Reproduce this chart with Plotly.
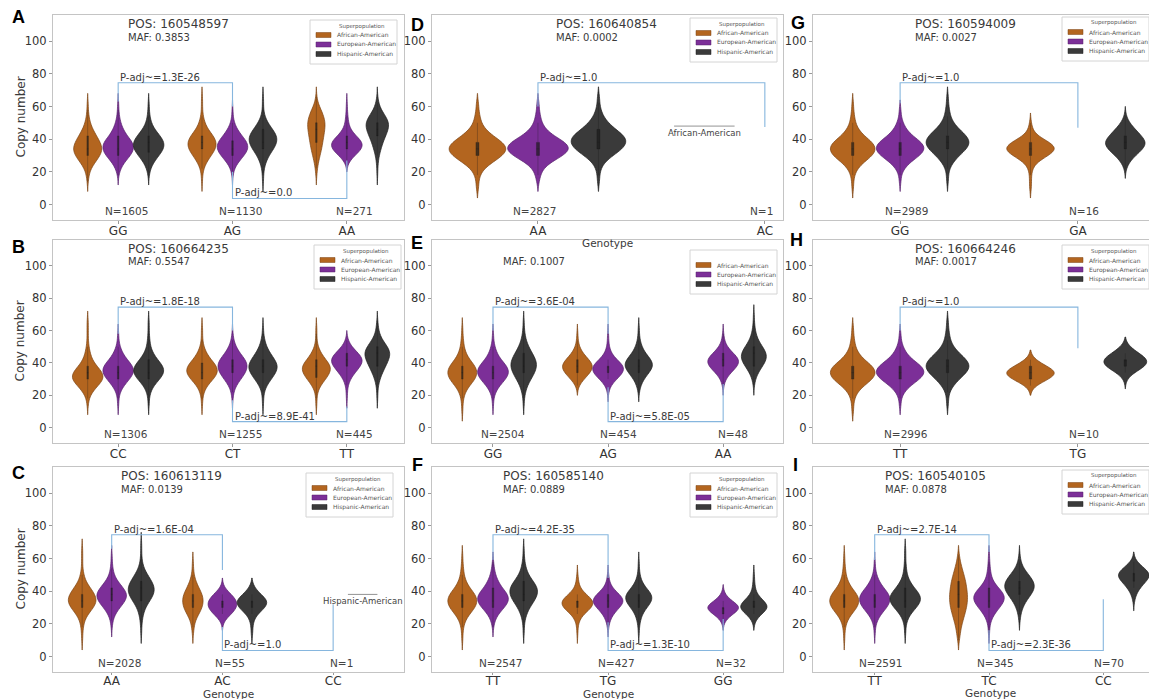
import numpy as np
import plotly.graph_objects as go

# ------------------------------------------------------------------ data
BIN_CENTERS = [6, 10, 14, 18, 22, 26, 30, 34, 38, 42, 46, 50, 54, 58, 62, 66, 70, 74]
POPULATIONS = ["African-American", "European-American", "Hispanic-American"]
LEGEND_TITLE = "Superpopulation"

# Panel A
A_GENOTYPES = ["GG", "AG", "AA"]
A_N = [1605, 1130, 271]
A_POS, A_MAF = "160548597", "0.3853"
A_AFRICAN = [[0,0,1,2,5,12,20,24,20,14,8,4,2,1,1,0,0,0],
             [0,0,1,1,3,8,16,24,26,20,10,5,2,1,1,1,0,0],
             [0,0,0,1,2,4,7,10,12,14,16,17,14,9,3,1,0,0]]
A_EUROPEAN = [[0,0,0,1,4,10,20,26,24,14,8,4,2,1,1,0,0,0],
              [0,0,0,1,3,10,20,28,26,16,8,3,1,1,0,0,0,0],
              [0,0,0,0,0,3,14,28,30,16,6,3,2,1,1,0,0,0]]
A_HISPANIC = [[0,0,0,1,3,8,16,24,25,18,9,4,2,1,1,0,0,0],
              [0,0,1,1,2,5,10,18,24,24,16,8,3,1,1,1,0,0],
              [0,0,0,1,1,2,4,8,12,18,24,26,18,8,3,1,0,0]]
A_TOP_BRACKET, A_TOP_P = [63, 74.5, 60], "1.3E-26"
A_BOTTOM_BRACKET, A_BOTTOM_P = [20, 3.7, 27], "0.0"

# Panel B
B_GENOTYPES = ["CC", "CT", "TT"]
B_N = [1306, 1255, 445]
B_POS, B_MAF = "160664235", "0.5547"
B_AFRICAN = [[0,0,1,2,7,16,26,24,14,7,4,2,1,1,1,1,0,0],
             [0,0,1,1,3,8,18,26,24,14,7,3,1,1,1,0,0,0],
             [0,0,1,1,2,7,16,24,26,16,8,3,1,1,1,0,0,0]]
B_EUROPEAN = [[0,0,1,1,3,9,18,26,24,14,7,3,1,1,0,0,0,0],
              [0,0,0,1,2,6,14,22,26,22,12,6,2,1,0,0,0,0],
              [0,0,0,1,1,2,6,14,24,30,20,8,2,0,0,0,0,0]]
B_HISPANIC = [[0,0,1,1,3,8,18,26,24,14,7,3,2,1,1,1,0,0],
              [0,0,1,1,2,6,14,22,26,20,12,6,3,1,1,0,0,0],
              [0,0,0,1,1,2,5,10,16,22,26,20,10,4,2,1,0,0]]
B_TOP_BRACKET, B_TOP_P = [58, 74.5, 60], "1.8E-18"
B_BOTTOM_BRACKET, B_BOTTOM_P = [17, 3.7, 13], "8.9E-41"

# Panel C
C_GENOTYPES = ["AA", "AC", "CC"]
C_N = [2028, 55, 1]
C_POS, C_MAF = "160613119", "0.0139"
C_AFRICAN = [[0,1,1,2,4,10,20,26,22,14,6,3,1,1,1,1,0,0],
             [0,0,1,2,4,10,16,18,16,10,5,2,1,1,0,0,0,0],
             None]
C_EUROPEAN = [[0,0,0,1,2,6,14,24,28,20,10,4,2,1,1,0,0,0],
              [0,0,0,0,1,6,10,10,6,1,0,0,0,0,0,0,0,0],
              None]
C_HISPANIC = [[0,0,1,1,2,4,8,16,24,26,20,12,5,2,1,1,1,0],
              [0,0,1,1,2,6,16,20,10,3,0,0,0,0,0,0,0,0],
              None]
C_SINGLE = ("CC", "Hispanic-American", 38)
C_TOP_BRACKET, C_TOP_P = [66, 74.5, 53], "1.6E-04"
C_BOTTOM_BRACKET, C_BOTTOM_P = [18, 3.7, 32], "1.0"

# Panel D
D_GENOTYPES = ["AA", "AC"]
D_N = [2827, 1]
D_POS, D_MAF = "160640854", "0.0002"
D_AFRICAN = [[0,1,1,2,5,12,20,24,20,12,6,3,2,1,1,0,0,0], None]
D_EUROPEAN = [[0,0,1,2,4,10,20,26,22,12,6,3,2,1,1,0,0,0], None]
D_HISPANIC = [[0,0,1,1,2,5,12,20,24,22,14,8,4,2,1,1,0,0], None]
D_SINGLE = ("AC", "African-American", 48)
D_TOP_BRACKET, D_TOP_P = [60, 74.5, 47.5], "1.0"
D_BOTTOM_BRACKET, D_BOTTOM_P = None, None

# Panel E
E_GENOTYPES = ["GG", "AG", "AA"]
E_N = [2504, 454, 48]
E_POS, E_MAF = None, "0.1007"
E_AFRICAN = [[0,1,1,2,5,12,22,26,22,12,6,3,2,1,1,0,0,0],
             [0,0,0,0,0,2,10,20,26,18,8,3,1,1,0,0,0,0],
             None]
E_EUROPEAN = [[0,0,1,1,4,10,20,26,22,12,6,3,1,1,0,0,0,0],
              [0,0,0,0,1,4,14,26,28,14,5,2,1,1,0,0,0,0],
              [0,0,0,0,0,1,4,12,24,28,16,6,2,1,0,0,0,0]]
E_HISPANIC = [[0,0,1,1,3,6,12,18,22,20,14,8,4,2,1,1,0,0],
              [0,0,0,0,1,3,8,16,24,20,10,5,2,1,1,0,0,0],
              [0,0,0,0,0,1,3,8,16,24,24,16,8,4,2,1,1,0]]
E_TOP_BRACKET, E_TOP_P = [60, 74.5, 58], "3.6E-04"
E_BOTTOM_BRACKET, E_BOTTOM_P = [25, 3.7, 27], "5.8E-05"

# Panel F
F_GENOTYPES = ["TT", "TG", "GG"]
F_N = [2547, 427, 32]
F_POS, F_MAF = "160585140", "0.0889"
F_AFRICAN = [[0,1,1,2,5,12,22,26,22,12,6,3,2,1,1,0,0,0],
             [0,0,1,1,3,10,26,30,14,4,2,1,0,0,0,0,0,0],
             None]
F_EUROPEAN = [[0,0,0,1,3,8,18,26,24,14,8,4,2,1,0,0,0,0],
              [0,0,0,1,3,8,18,28,18,6,2,1,0,0,0,0,0,0],
              [0,0,0,0,2,12,28,10,2,0,0,0,0,0,0,0,0,0]]
F_HISPANIC = [[0,0,1,1,2,5,10,18,24,24,16,8,4,2,1,1,0,0],
              [0,0,1,1,3,6,14,24,24,12,5,2,1,1,0,0,0,0],
              [0,0,0,0,2,10,24,14,4,2,1,1,0,0,0,0,0,0]]
F_TOP_BRACKET, F_TOP_P = [59, 74.5, 48], "4.2E-35"
F_BOTTOM_BRACKET, F_BOTTOM_P = [21, 3.7, 23], "1.3E-10"

# Panel G
G_GENOTYPES = ["GG", "GA"]
G_N = [2989, 16]
G_POS, G_MAF = "160594009", "0.0027"
G_AFRICAN = [[0,1,1,2,5,12,22,26,22,12,6,3,2,1,1,0,0,0],
             [0,1,1,1,2,6,18,28,20,6,2,1,0,0,0,0,0,0]]
G_EUROPEAN = [[0,0,1,1,4,10,20,26,22,12,6,3,1,1,0,0,0,0], None]
G_HISPANIC = [[0,0,1,1,2,6,12,20,24,20,12,6,3,2,1,1,0,0],
              [0,0,0,0,1,4,10,18,22,16,10,4,1,0,0,0,0,0]]
G_TOP_BRACKET, G_TOP_P = [62, 74.5, 47], "1.0"
G_BOTTOM_BRACKET, G_BOTTOM_P = None, None

# Panel H
H_GENOTYPES = ["TT", "TG"]
H_N = [2996, 10]
H_POS, H_MAF = "160664246", "0.0017"
H_AFRICAN = [[0,1,1,2,5,12,22,26,22,12,6,3,2,1,1,0,0,0],
             [0,0,0,0,0,3,14,22,12,3,0,0,0,0,0,0,0,0]]
H_EUROPEAN = [[0,0,1,1,4,10,20,26,22,12,6,3,1,1,0,0,0,0], None]
H_HISPANIC = [[0,0,1,1,2,6,12,20,24,20,12,6,3,2,1,1,0,0],
              [0,0,0,0,0,0,1,6,16,18,10,3,0,0,0,0,0,0]]
H_TOP_BRACKET, H_TOP_P = [60, 74.5, 49], "1.0"
H_BOTTOM_BRACKET, H_BOTTOM_P = None, None

# Panel I
I_GENOTYPES = ["TT", "TC", "CC"]
I_N = [2591, 345, 70]
I_POS, I_MAF = "160540105", "0.0878"
I_AFRICAN = [[0,1,1,2,5,12,22,26,22,12,6,3,2,1,1,0,0,0],
             [0,1,2,3,5,7,9,10,10,9,8,6,4,2,1,0,0,0],
             None]
I_EUROPEAN = [[0,0,1,1,4,10,20,26,24,14,7,3,1,1,0,0,0,0],
              [0,0,1,1,3,8,16,24,24,14,6,3,2,1,1,0,0,0],
              None]
I_HISPANIC = [[0,0,1,1,3,8,18,26,24,14,7,3,2,1,1,1,0,0],
              [0,0,0,0,1,2,5,10,18,24,22,14,6,2,1,0,0,0],
              [0,0,0,0,0,0,0,1,3,8,16,24,14,3,0,0,0,0]]
I_TOP_BRACKET, I_TOP_P = [59, 74.5, 64], "2.7E-14"
I_BOTTOM_BRACKET, I_BOTTOM_P = [16, 3.7, 35], "2.3E-36"

# ------------------------------------------------------------------ panel registry
PANELS = [
    dict(letter="A", genotypes=A_GENOTYPES, counts=[A_AFRICAN, A_EUROPEAN, A_HISPANIC], n=A_N, pos=A_POS, maf=A_MAF,
         top=A_TOP_BRACKET, top_p=A_TOP_P, bottom=A_BOTTOM_BRACKET, bottom_p=A_BOTTOM_P, single=None),
    dict(letter="B", genotypes=B_GENOTYPES, counts=[B_AFRICAN, B_EUROPEAN, B_HISPANIC], n=B_N, pos=B_POS, maf=B_MAF,
         top=B_TOP_BRACKET, top_p=B_TOP_P, bottom=B_BOTTOM_BRACKET, bottom_p=B_BOTTOM_P, single=None),
    dict(letter="C", genotypes=C_GENOTYPES, counts=[C_AFRICAN, C_EUROPEAN, C_HISPANIC], n=C_N, pos=C_POS, maf=C_MAF,
         top=C_TOP_BRACKET, top_p=C_TOP_P, bottom=C_BOTTOM_BRACKET, bottom_p=C_BOTTOM_P, single=C_SINGLE),
    dict(letter="D", genotypes=D_GENOTYPES, counts=[D_AFRICAN, D_EUROPEAN, D_HISPANIC], n=D_N, pos=D_POS, maf=D_MAF,
         top=D_TOP_BRACKET, top_p=D_TOP_P, bottom=D_BOTTOM_BRACKET, bottom_p=D_BOTTOM_P, single=D_SINGLE),
    dict(letter="E", genotypes=E_GENOTYPES, counts=[E_AFRICAN, E_EUROPEAN, E_HISPANIC], n=E_N, pos=E_POS, maf=E_MAF,
         top=E_TOP_BRACKET, top_p=E_TOP_P, bottom=E_BOTTOM_BRACKET, bottom_p=E_BOTTOM_P, single=None),
    dict(letter="F", genotypes=F_GENOTYPES, counts=[F_AFRICAN, F_EUROPEAN, F_HISPANIC], n=F_N, pos=F_POS, maf=F_MAF,
         top=F_TOP_BRACKET, top_p=F_TOP_P, bottom=F_BOTTOM_BRACKET, bottom_p=F_BOTTOM_P, single=None),
    dict(letter="G", genotypes=G_GENOTYPES, counts=[G_AFRICAN, G_EUROPEAN, G_HISPANIC], n=G_N, pos=G_POS, maf=G_MAF,
         top=G_TOP_BRACKET, top_p=G_TOP_P, bottom=G_BOTTOM_BRACKET, bottom_p=G_BOTTOM_P, single=None),
    dict(letter="H", genotypes=H_GENOTYPES, counts=[H_AFRICAN, H_EUROPEAN, H_HISPANIC], n=H_N, pos=H_POS, maf=H_MAF,
         top=H_TOP_BRACKET, top_p=H_TOP_P, bottom=H_BOTTOM_BRACKET, bottom_p=H_BOTTOM_P, single=None),
    dict(letter="I", genotypes=I_GENOTYPES, counts=[I_AFRICAN, I_EUROPEAN, I_HISPANIC], n=I_N, pos=I_POS, maf=I_MAF,
         top=I_TOP_BRACKET, top_p=I_TOP_P, bottom=I_BOTTOM_BRACKET, bottom_p=I_BOTTOM_P, single=None),
]

# ------------------------------------------------------------------ styling / geometry
W, H = 1149, 699
FONT = "DejaVu Sans"
FILL = {"African-American": "#b3651f", "European-American": "#7c2f98", "Hispanic-American": "#3a3a3a"}
EDGE = {"African-American": "#7a4212", "European-American": "#55206a", "Hispanic-American": "#1e1e1e"}
BRACKET_COLOR = "#86b6de"
TEXT_COLOR = "#3a3a3a"
COL_PX = [(53, 404), (432, 783), (813, 1149)]
ROW_PX = [(15, 220), (240, 443), (467, 672)]
GRID_POS = {"A": (0, 0), "B": (1, 0), "C": (2, 0), "D": (0, 1), "E": (1, 1), "F": (2, 1),
            "G": (0, 2), "H": (1, 2), "I": (2, 2)}
XRANGE = {"A": [-0.57, 2.50], "B": [-0.57, 2.50], "C": [-0.53, 2.64],
          "D": [-0.467, 1.08], "E": [-0.53, 2.52], "F": [-0.53, 2.52],
          "G": [-0.49, 1.40], "H": [-0.49, 1.40], "I": [-0.54, 2.40]}
YRANGE = [-9.5, 116]
N_XSHIFT = {"A": 8, "B": 8, "C": 8, "D": -3, "E": 10, "F": 8, "G": 6, "H": 6, "I": 6}
LEGEND_BOX_PX = {"A": (310, 20), "B": (314, 245), "C": (306, 473), "D": (690, 18), "E": (690, 250),
                 "F": (690, 473), "G": (1062, 17), "H": (1062, 245), "I": (1062, 470)}
LEGEND_W, LEGEND_H = 87, 44
LETTER_PX = {"A": (18, 17), "B": (18, 247), "C": (18, 473), "D": (417, 25), "E": (417, 243),
             "F": (417, 465), "G": (798, 23), "H": (797, 240), "I": (795, 465)}
XTITLE_PX = {"D": (607, 243), "C": (228, 694), "F": (608, 694), "I": (990, 693)}
HUE_OFFSET = [-0.2667, 0.0, 0.2667]
HALF_SLOT = 0.1333

fig = go.Figure()
annotations = []
shapes = []


def px_x(v):
    return v / W


def px_y(v):
    return 1 - v / H


for k, p in enumerate(PANELS):
    L = p["letter"]
    r, c = GRID_POS[L]
    xa = "x" if k == 0 else f"x{k + 1}"
    ya = "y" if k == 0 else f"y{k + 1}"
    genos = p["genotypes"]

    # violins: one trace per population & genotype (scaled within genotype, like seaborn)
    for h, pop in enumerate(POPULATIONS):
        for g, geno in enumerate(genos):
            cnt = p["counts"][h][g]
            if cnt is None:
                continue
            vals = np.repeat(BIN_CENTERS, cnt)
            fig.add_trace(go.Violin(
                x=[geno] * len(vals), y=vals, name=pop, showlegend=False,
                xaxis=xa, yaxis=ya, offsetgroup=pop, alignmentgroup=L,
                scalegroup=f"{L}-{geno}", scalemode="width", bandwidth=3, spanmode="soft",
                points=False, fillcolor=FILL[pop], opacity=1,
                line=dict(color=EDGE[pop], width=0.7),
                box=dict(visible=True, width=0.05, fillcolor="rgba(25,25,25,0.7)",
                         line=dict(color="rgba(25,25,25,0.7)", width=0.4)),
                meanline=dict(visible=False), hoverinfo="skip"))

    # significance brackets
    for br, ptxt, g0 in ((p["top"], p["top_p"], 0), (p["bottom"], p["bottom_p"], 1)):
        if br is None:
            continue
        fig.add_trace(go.Scatter(
            x=[genos[g0], genos[g0], genos[g0 + 1], genos[g0 + 1]],
            y=[br[0], br[1], br[1], br[2]], mode="lines",
            line=dict(color=BRACKET_COLOR, width=1.1), showlegend=False,
            hoverinfo="skip", xaxis=xa, yaxis=ya))
        annotations.append(dict(x=g0, y=br[1], xref=xa, yref=ya, text=f"P-adj~={ptxt}",
                                showarrow=False, xanchor="left", yanchor="bottom", yshift=-2,
                                font=dict(size=10, color=TEXT_COLOR, family=FONT)))

    # sample sizes
    for g, n in enumerate(p["n"]):
        annotations.append(dict(x=g, y=-4, xref=xa, yref=ya, text=f"N={n}", showarrow=False,
                                xanchor="center", yanchor="middle", xshift=N_XSHIFT[L],
                                font=dict(size=10.5, color="#444444", family=FONT)))

    # POS / MAF
    if p["pos"] is not None:
        annotations.append(dict(x=0.07, y=110.5, xref=xa, yref=ya, text=f"POS: {p['pos']}",
                                showarrow=False, xanchor="left", yanchor="middle",
                                font=dict(size=12, color=TEXT_COLOR, family=FONT)))
    annotations.append(dict(x=0.07, y=102.5, xref=xa, yref=ya, text=f"MAF: {p['maf']}",
                            showarrow=False, xanchor="left", yanchor="middle",
                            font=dict(size=10, color=TEXT_COLOR, family=FONT)))

    # single-sample groups (degenerate violins)
    if p["single"] is not None:
        geno, pop, val = p["single"]
        xc = genos.index(geno) + HUE_OFFSET[POPULATIONS.index(pop)]
        shapes.append(dict(type="line", xref=xa, yref=ya, x0=xc - HALF_SLOT, x1=xc + HALF_SLOT,
                           y0=val, y1=val, line=dict(color="#777777", width=0.8)))
        annotations.append(dict(x=xc, y=val - 4, xref=xa, yref=ya, text=pop, showarrow=False,
                                xanchor="center", yanchor="middle",
                                font=dict(size=8.5, color="#444444", family=FONT)))

    # axes
    x0, x1 = COL_PX[c]
    y0, y1 = ROW_PX[r]
    axis_common = dict(showline=True, linecolor="#c4c4c4", linewidth=1, mirror=True,
                       ticks="outside", tickcolor="#999999", showgrid=False,
                       zeroline=False, fixedrange=True)
    fig.layout["xaxis" if k == 0 else f"xaxis{k + 1}"] = dict(
        domain=[x0 / W, x1 / W], anchor=ya, type="category", categoryorder="array",
        categoryarray=genos, range=XRANGE[L], ticklen=(2 if r == 2 else 3),
        ticklabelstandoff=(-4 if r == 2 else -3),
        tickfont=dict(size=12, color="#333333", family=FONT), **axis_common)
    fig.layout["yaxis" if k == 0 else f"yaxis{k + 1}"] = dict(
        domain=[1 - y1 / H, 1 - y0 / H], anchor=xa, range=YRANGE, ticklen=3,
        tickvals=[0, 20, 40, 60, 80, 100],
        tickfont=dict(size=11.5, color="#333333", family=FONT), **axis_common)

    # legend box (one per panel, as in the reference)
    lx, ly = LEGEND_BOX_PX[L]
    shapes.append(dict(type="rect", xref="paper", yref="paper",
                       x0=px_x(lx), x1=px_x(lx + LEGEND_W), y0=px_y(ly + LEGEND_H), y1=px_y(ly),
                       fillcolor="rgba(255,255,255,0.85)", line=dict(color="#d4d4d4", width=1)))
    if L != "E":
        annotations.append(dict(x=px_x(lx + LEGEND_W / 2 + 8), y=px_y(ly + 6), xref="paper", yref="paper",
                                text=LEGEND_TITLE, showarrow=False, xanchor="center", yanchor="middle",
                                font=dict(size=5.5, color="#555555", family=FONT)))
    for h, pop in enumerate(POPULATIONS):
        iy = ly + 15 + h * 9.5
        shapes.append(dict(type="rect", xref="paper", yref="paper",
                           x0=px_x(lx + 6), x1=px_x(lx + 21), y0=px_y(iy + 2.5), y1=px_y(iy - 2.5),
                           fillcolor=FILL[pop], line=dict(color=EDGE[pop], width=0.5)))
        annotations.append(dict(x=px_x(lx + 25), y=px_y(iy), xref="paper", yref="paper", text=pop,
                                showarrow=False, xanchor="left", yanchor="middle",
                                font=dict(size=6, color="#555555", family=FONT)))

    # panel letter
    px_, py_ = LETTER_PX[L]
    annotations.append(dict(x=px_x(px_), y=px_y(py_), xref="paper", yref="paper", text=f"<b>{L}</b>",
                            showarrow=False, xanchor="center", yanchor="middle",
                            font=dict(size=18, color="#000000", family="Liberation Sans")))

# axis titles
for row in range(3):
    y0, y1 = ROW_PX[row]
    annotations.append(dict(x=px_x(20), y=px_y((y0 + y1) / 2), xref="paper", yref="paper",
                            text="Copy number", textangle=-90, showarrow=False,
                            xanchor="center", yanchor="middle",
                            font=dict(size=12, color=TEXT_COLOR, family=FONT)))
for L, (tx, ty) in XTITLE_PX.items():
    annotations.append(dict(x=px_x(tx), y=px_y(ty), xref="paper", yref="paper", text="Genotype",
                            showarrow=False, xanchor="center", yanchor="middle",
                            font=dict(size=10.5, color=TEXT_COLOR, family=FONT)))

fig.update_layout(
    width=W, height=H, autosize=False,
    margin=dict(l=0, r=0, t=0, b=0, pad=0),
    paper_bgcolor="white", plot_bgcolor="white",
    font=dict(family=FONT, color=TEXT_COLOR),
    violinmode="group", violingap=0.2, violingroupgap=0,
    showlegend=False, annotations=annotations, shapes=shapes,
)

fig.write_html("out.html", config={"displayModeBar": False},
               post_script="document.body.style.margin='0px';")
